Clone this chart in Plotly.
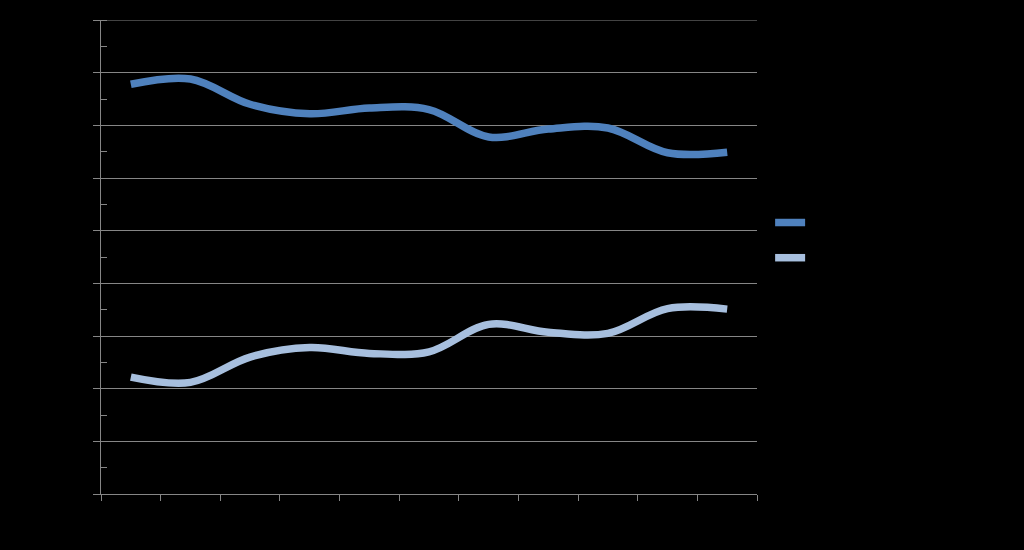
import plotly.graph_objects as go

categories = ["2000", "2001", "2002", "2003", "2004", "2005", "2006", "2007", "2008", "2009", "2010"]
series1_name = "Series 1"
series2_name = "Series 2"
series1_values = [77.8, 78.8, 74.0, 72.2, 73.3, 73.0, 67.8, 69.3, 69.5, 64.8, 64.9]
series2_values = [22.2, 21.2, 26.0, 27.8, 26.7, 27.0, 32.2, 30.7, 30.5, 35.2, 35.1]
y_ticks = [0, 10, 20, 30, 40, 50, 60, 70, 80, 90]

fig = go.Figure()
fig.add_trace(go.Scatter(
    x=categories, y=series1_values, name=series1_name, mode="lines",
    line=dict(color="#4F81BD", width=7.5, shape="spline", smoothing=1.0),
    legendgroup="a",
))
fig.add_trace(go.Scatter(
    x=categories, y=series2_values, name=series2_name, mode="lines",
    line=dict(color="#A7BFDE", width=7.5, shape="spline", smoothing=1.0),
    legendgroup="b",
))

axis_gray = "#868686"
# top gridline at the last tick value (plotly omits a gridline lying on the plot edge)
fig.add_shape(type="line", xref="paper", yref="y", x0=0, x1=1,
              y0=y_ticks[-1], y1=y_ticks[-1], line=dict(color=axis_gray, width=1),
              layer="below")

fig.update_layout(
    width=1024, height=550,
    paper_bgcolor="#000000", plot_bgcolor="#000000",
    margin=dict(l=101, r=267, t=20, b=56),
    font=dict(family="Liberation Sans, Arial, sans-serif", size=13, color="#000000"),
    showlegend=True,
    legend=dict(x=1.02, xanchor="left", y=0.535, yanchor="middle",
                tracegroupgap=14, traceorder="grouped",
                bgcolor="rgba(0,0,0,0)", font=dict(color="#000000", size=14)),
    xaxis=dict(
        type="category", range=[-0.5, 10.5], showgrid=False, zeroline=False,
        showline=True, linecolor=axis_gray, linewidth=1,
        ticks="outside", tickson="boundaries", ticklen=6, tickcolor=axis_gray,
        tickfont=dict(color="#000000"),
    ),
    yaxis=dict(
        range=[0, 90], tickvals=y_ticks, showgrid=True, gridcolor=axis_gray, gridwidth=1,
        zeroline=False, showline=True, linecolor=axis_gray, linewidth=1,
        ticks="outside", ticklen=7, tickcolor=axis_gray,
        tickfont=dict(color="#000000"),
        minor=dict(dtick=5, ticks="inside", ticklen=6, tickcolor=axis_gray, showgrid=False),
    ),
)

fig.write_html("out.html")
